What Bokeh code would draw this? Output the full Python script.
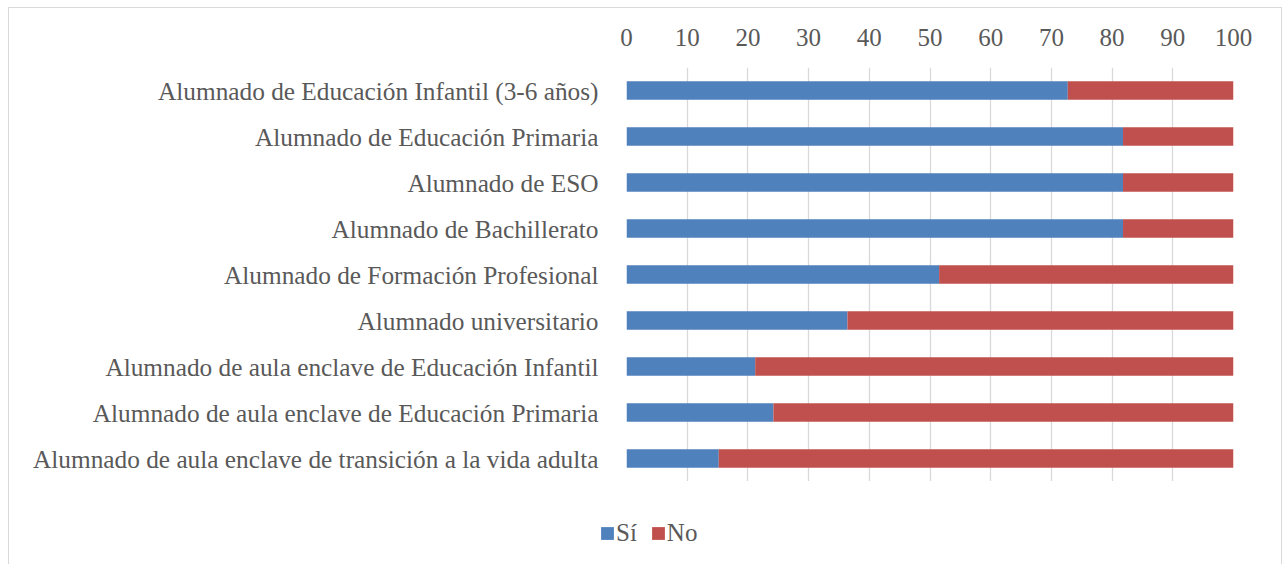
from bokeh.plotting import figure
from bokeh.layouts import column, row
from bokeh.models import (FactorRange, Range1d, FixedTicker, Legend, LegendItem,
                          ColumnDataSource, Spacer)
from bokeh.embed import file_html
from bokeh.resources import INLINE

categories = [
    "Alumnado de Educación Infantil (3-6 años)",
    "Alumnado de Educación Primaria",
    "Alumnado de ESO",
    "Alumnado de Bachillerato",
    "Alumnado de Formación Profesional",
    "Alumnado universitario",
    "Alumnado de aula enclave de Educación Infantil",
    "Alumnado de aula enclave de Educación Primaria",
    "Alumnado de aula enclave de transición a la vida adulta",
]
si = [72.7, 81.8, 81.8, 81.8, 51.5, 36.4, 21.2, 24.2, 15.2]
no = [round(100 - v, 1) for v in si]
x_ticks = list(range(0, 101, 10))
series = ["Sí", "No"]
colors = ["#4F81BD", "#C0504D"]

FONT = "Liberation Serif"
TXT = "#595959"
FS = "25px"

source = ColumnDataSource(dict(cat=categories, si=si, no=no))

p = figure(width=1272, height=473,
           y_range=FactorRange(factors=categories[::-1]),
           x_range=Range1d(0, 100), x_axis_location="above",
           output_backend="svg", toolbar_location=None,
           min_border_left=617, min_border_top=59,
           min_border_right=48, min_border_bottom=0)
p.outline_line_color = None
p.frame_align = False

p.hbar_stack(["si", "no"], y="cat", height=0.4, color=colors,
             line_color=None, source=source)

p.xaxis.ticker = FixedTicker(ticks=x_ticks)
p.xaxis.axis_line_color = None
p.xaxis.major_tick_line_color = None
p.xaxis.minor_tick_line_color = None
p.xaxis.major_label_text_font = FONT
p.xaxis.major_label_text_font_size = FS
p.xaxis.major_label_text_color = TXT
p.xaxis.major_label_standoff = 16

p.yaxis.axis_line_color = None
p.yaxis.major_tick_line_color = None
p.yaxis.major_label_text_font = FONT
p.yaxis.major_label_text_font_size = "25.3px"
p.yaxis.major_label_text_color = TXT
p.yaxis.major_label_standoff = 22

p.xgrid.grid_line_color = "#D9D9D9"
p.xgrid.grid_line_width = 1.3
p.ygrid.grid_line_color = None

# legend strip below the chart (hidden proxy renderers carry the legend glyphs)
lf = figure(width=1272, height=83, x_range=Range1d(0, 1), y_range=Range1d(0, 1),
            x_axis_type=None, y_axis_type=None, output_backend="svg",
            toolbar_location=None, min_border=0)
lf.frame_align = False
lf.outline_line_color = None
lf.xgrid.visible = False
lf.ygrid.visible = False
leg_rs = [lf.hbar(y=col, right=col, height=0.4, color=c, line_color=None,
                  source=source, visible=False)
          for col, c in zip(["si", "no"], colors)]

legend = Legend(items=[LegendItem(label=s, renderers=[r]) for s, r in zip(series, leg_rs)],
                orientation="horizontal", location=(590, 17),
                glyph_width=16, glyph_height=16, padding=0, spacing=13,
                label_standoff=1, border_line_color=None, background_fill_alpha=0,
                label_text_font=FONT, label_text_font_size=FS,
                label_text_color=TXT, margin=0)
lf.add_layout(legend)

box = column(p, lf, spacing=0, styles={"border": "1px solid #D9D9D9"})
root = column(Spacer(height=7), row(Spacer(width=8), box, spacing=0), spacing=0)

open("out.html", "w").write(file_html(root, INLINE))
